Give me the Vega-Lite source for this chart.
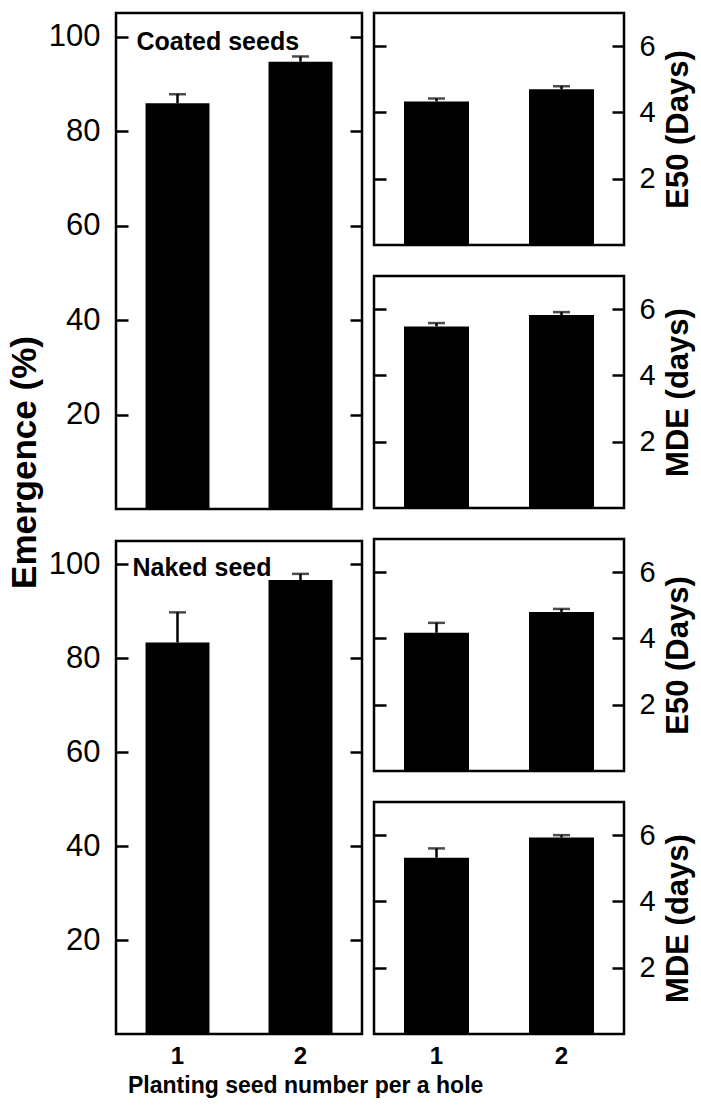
{
  "$schema": "https://vega.github.io/schema/vega-lite/v6.json",
  "padding": {"left": 6, "top": 11, "right": 5, "bottom": 5},
  "background": "white",
  "title": {"text": "Planting  seed number per a hole", "orient": "bottom", "anchor": "start", "fontSize": 23, "fontWeight": "bold", "font": "Liberation Sans", "color": "black", "dx": 122, "offset": 6},
  "config": {
    "view": {"stroke": "black", "strokeWidth": 2.5},
    "axis": {"grid": false, "domain": false, "tickColor": "black", "tickWidth": 2.5, "labelColor": "black", "titleColor": "black", "labelFont": "Liberation Sans", "titleFont": "Liberation Sans"},
    "text": {"font": "Liberation Sans"}
  },
  "data": {"values": [
    {"seed": "Coated", "measure": "Emergence", "n": "1", "mean": 85.9, "upper": 87.8},
    {"seed": "Coated", "measure": "Emergence", "n": "2", "mean": 94.7, "upper": 95.8},
    {"seed": "Naked", "measure": "Emergence", "n": "1", "mean": 83.4, "upper": 89.8},
    {"seed": "Naked", "measure": "Emergence", "n": "2", "mean": 96.7, "upper": 98.0},
    {"seed": "Coated", "measure": "E50", "n": "1", "mean": 4.33, "upper": 4.42},
    {"seed": "Coated", "measure": "E50", "n": "2", "mean": 4.70, "upper": 4.79},
    {"seed": "Coated", "measure": "MDE", "n": "1", "mean": 5.48, "upper": 5.58},
    {"seed": "Coated", "measure": "MDE", "n": "2", "mean": 5.82, "upper": 5.91},
    {"seed": "Naked", "measure": "E50", "n": "1", "mean": 4.17, "upper": 4.47},
    {"seed": "Naked", "measure": "E50", "n": "2", "mean": 4.80, "upper": 4.89},
    {"seed": "Naked", "measure": "MDE", "n": "1", "mean": 5.32, "upper": 5.60},
    {"seed": "Naked", "measure": "MDE", "n": "2", "mean": 5.93, "upper": 6.00}
  ]},
  "spacing": 6,
  "hconcat": [
    {
      "bounds": "flush",
      "spacing": 32,
      "vconcat": [
        {
          "width": 246, "height": 496,
          "encoding": {"x": {"field": "n", "type": "nominal", "scale": {"paddingInner": 0.48, "paddingOuter": 0.24}, "axis": null}},
          "layer": [
            {"transform": [{"filter": "datum.seed == 'Coated' && datum.measure == 'Emergence'"}],
             "mark": {"type": "bar", "color": "black"},
             "encoding": {"y": {"field": "mean", "type": "quantitative", "scale": {"domain": [0, 105], "nice": false},
               "axis": {"orient": "left", "values": [20, 40, 60, 80, 100], "tickSize": -12, "labelPadding": 28, "labelFontSize": 31, "title": "Emergence  (%)", "titleFontSize": 35, "titleFontWeight": "bold", "titleY": 449, "titlePadding": 6}}}},
            {"transform": [{"filter": "datum.seed == 'Coated' && datum.measure == 'Emergence'"}],
             "mark": {"type": "rule", "color": "black", "strokeWidth": 2.5},
             "encoding": {"y": {"field": "mean", "type": "quantitative", "axis": null}, "y2": {"field": "upper"}}},
            {"transform": [{"filter": "datum.seed == 'Coated' && datum.measure == 'Emergence'"}],
             "mark": {"type": "tick", "color": "black", "size": 17, "thickness": 2.5},
             "encoding": {"y": {"field": "upper", "type": "quantitative", "axis": {"orient": "right", "values": [20, 40, 60, 80, 100], "tickSize": -12, "labels": false, "title": null}}}},
            {"data": {"values": [{"label": "Coated seeds"}]},
             "mark": {"type": "text", "align": "left", "baseline": "middle", "fontSize": 25, "fontWeight": "bold", "color": "black", "dx": -41, "dy": 5},
             "encoding": {"text": {"field": "label"}, "x": {"datum": "1", "type": "nominal"}, "y": {"datum": 100, "type": "quantitative", "axis": null}}}
          ],
          "resolve": {"axis": {"y": "independent"}}
        },
        {
          "width": 246, "height": 493,
          "encoding": {"x": {"field": "n", "type": "nominal", "scale": {"paddingInner": 0.48, "paddingOuter": 0.24},
            "axis": {"labelAngle": 0, "labelFontSize": 24, "labelFontWeight": "bold", "ticks": false, "labelPadding": 10, "title": null}}},
          "layer": [
            {"transform": [{"filter": "datum.seed == 'Naked' && datum.measure == 'Emergence'"}],
             "mark": {"type": "bar", "color": "black"},
             "encoding": {"y": {"field": "mean", "type": "quantitative", "scale": {"domain": [0, 105], "nice": false},
               "axis": {"orient": "left", "values": [20, 40, 60, 80, 100], "tickSize": -12, "labelPadding": 28, "labelFontSize": 31, "title": null}}}},
            {"transform": [{"filter": "datum.seed == 'Naked' && datum.measure == 'Emergence'"}],
             "mark": {"type": "rule", "color": "black", "strokeWidth": 2.5},
             "encoding": {"y": {"field": "mean", "type": "quantitative", "axis": null}, "y2": {"field": "upper"}}},
            {"transform": [{"filter": "datum.seed == 'Naked' && datum.measure == 'Emergence'"}],
             "mark": {"type": "tick", "color": "black", "size": 17, "thickness": 2.5},
             "encoding": {"y": {"field": "upper", "type": "quantitative", "axis": {"orient": "right", "values": [20, 40, 60, 80, 100], "tickSize": -12, "labels": false, "title": null}}}},
            {"data": {"values": [{"label": "Naked seed"}]},
             "mark": {"type": "text", "align": "left", "baseline": "middle", "fontSize": 25, "fontWeight": "bold", "color": "black", "dx": -45, "dy": 4},
             "encoding": {"text": {"field": "label"}, "x": {"datum": "1", "type": "nominal"}, "y": {"datum": 100, "type": "quantitative", "axis": null}}}
          ],
          "resolve": {"axis": {"y": "independent"}}
        }
      ]
    },
    {
      "bounds": "flush",
      "spacing": 31,
      "vconcat": [
        {
          "width": 250, "height": 232,
          "encoding": {"x": {"field": "n", "type": "nominal", "scale": {"paddingInner": 0.48, "paddingOuter": 0.24}, "axis": null}},
          "layer": [
            {"transform": [{"filter": "datum.seed == 'Coated' && datum.measure == 'E50'"}],
             "mark": {"type": "bar", "color": "black"},
             "encoding": {"y": {"field": "mean", "type": "quantitative", "scale": {"domain": [0, 7], "nice": false},
               "axis": {"orient": "right", "values": [2, 4, 6], "tickSize": -12, "labelPadding": 27, "labelFontSize": 29, "title": "E50 (Days)", "titleFontSize": 31, "titleFontWeight": "bold", "titleAngle": 270, "titleBaseline": "top", "titlePadding": 8}}}},
            {"transform": [{"filter": "datum.seed == 'Coated' && datum.measure == 'E50'"}],
             "mark": {"type": "rule", "color": "black", "strokeWidth": 2.5},
             "encoding": {"y": {"field": "mean", "type": "quantitative", "axis": null}, "y2": {"field": "upper"}}},
            {"transform": [{"filter": "datum.seed == 'Coated' && datum.measure == 'E50'"}],
             "mark": {"type": "tick", "color": "black", "size": 17, "thickness": 2.5},
             "encoding": {"y": {"field": "upper", "type": "quantitative", "axis": {"orient": "left", "values": [2, 4, 6], "tickSize": -12, "labels": false, "title": null}}}}
          ],
          "resolve": {"axis": {"y": "independent"}}
        },
        {
          "width": 250, "height": 232,
          "encoding": {"x": {"field": "n", "type": "nominal", "scale": {"paddingInner": 0.48, "paddingOuter": 0.24}, "axis": null}},
          "layer": [
            {"transform": [{"filter": "datum.seed == 'Coated' && datum.measure == 'MDE'"}],
             "mark": {"type": "bar", "color": "black"},
             "encoding": {"y": {"field": "mean", "type": "quantitative", "scale": {"domain": [0, 7], "nice": false},
               "axis": {"orient": "right", "values": [2, 4, 6], "tickSize": -12, "labelPadding": 27, "labelFontSize": 29, "title": "MDE (days)", "titleFontSize": 31, "titleFontWeight": "bold", "titleAngle": 270, "titleBaseline": "top", "titlePadding": 8}}}},
            {"transform": [{"filter": "datum.seed == 'Coated' && datum.measure == 'MDE'"}],
             "mark": {"type": "rule", "color": "black", "strokeWidth": 2.5},
             "encoding": {"y": {"field": "mean", "type": "quantitative", "axis": null}, "y2": {"field": "upper"}}},
            {"transform": [{"filter": "datum.seed == 'Coated' && datum.measure == 'MDE'"}],
             "mark": {"type": "tick", "color": "black", "size": 17, "thickness": 2.5},
             "encoding": {"y": {"field": "upper", "type": "quantitative", "axis": {"orient": "left", "values": [2, 4, 6], "tickSize": -12, "labels": false, "title": null}}}}
          ],
          "resolve": {"axis": {"y": "independent"}}
        },
        {
          "width": 250, "height": 232,
          "encoding": {"x": {"field": "n", "type": "nominal", "scale": {"paddingInner": 0.48, "paddingOuter": 0.24}, "axis": null}},
          "layer": [
            {"transform": [{"filter": "datum.seed == 'Naked' && datum.measure == 'E50'"}],
             "mark": {"type": "bar", "color": "black"},
             "encoding": {"y": {"field": "mean", "type": "quantitative", "scale": {"domain": [0, 7], "nice": false},
               "axis": {"orient": "right", "values": [2, 4, 6], "tickSize": -12, "labelPadding": 27, "labelFontSize": 29, "title": "E50 (Days)", "titleFontSize": 31, "titleFontWeight": "bold", "titleAngle": 270, "titleBaseline": "top", "titlePadding": 8}}}},
            {"transform": [{"filter": "datum.seed == 'Naked' && datum.measure == 'E50'"}],
             "mark": {"type": "rule", "color": "black", "strokeWidth": 2.5},
             "encoding": {"y": {"field": "mean", "type": "quantitative", "axis": null}, "y2": {"field": "upper"}}},
            {"transform": [{"filter": "datum.seed == 'Naked' && datum.measure == 'E50'"}],
             "mark": {"type": "tick", "color": "black", "size": 17, "thickness": 2.5},
             "encoding": {"y": {"field": "upper", "type": "quantitative", "axis": {"orient": "left", "values": [2, 4, 6], "tickSize": -12, "labels": false, "title": null}}}}
          ],
          "resolve": {"axis": {"y": "independent"}}
        },
        {
          "width": 250, "height": 232,
          "encoding": {"x": {"field": "n", "type": "nominal", "scale": {"paddingInner": 0.48, "paddingOuter": 0.24},
            "axis": {"labelAngle": 0, "labelFontSize": 24, "labelFontWeight": "bold", "ticks": false, "labelPadding": 10, "title": null}}},
          "layer": [
            {"transform": [{"filter": "datum.seed == 'Naked' && datum.measure == 'MDE'"}],
             "mark": {"type": "bar", "color": "black"},
             "encoding": {"y": {"field": "mean", "type": "quantitative", "scale": {"domain": [0, 7], "nice": false},
               "axis": {"orient": "right", "values": [2, 4, 6], "tickSize": -12, "labelPadding": 27, "labelFontSize": 29, "title": "MDE (days)", "titleFontSize": 31, "titleFontWeight": "bold", "titleAngle": 270, "titleBaseline": "top", "titlePadding": 8}}}},
            {"transform": [{"filter": "datum.seed == 'Naked' && datum.measure == 'MDE'"}],
             "mark": {"type": "rule", "color": "black", "strokeWidth": 2.5},
             "encoding": {"y": {"field": "mean", "type": "quantitative", "axis": null}, "y2": {"field": "upper"}}},
            {"transform": [{"filter": "datum.seed == 'Naked' && datum.measure == 'MDE'"}],
             "mark": {"type": "tick", "color": "black", "size": 17, "thickness": 2.5},
             "encoding": {"y": {"field": "upper", "type": "quantitative", "axis": {"orient": "left", "values": [2, 4, 6], "tickSize": -12, "labels": false, "title": null}}}}
          ],
          "resolve": {"axis": {"y": "independent"}}
        }
      ]
    }
  ]
}
